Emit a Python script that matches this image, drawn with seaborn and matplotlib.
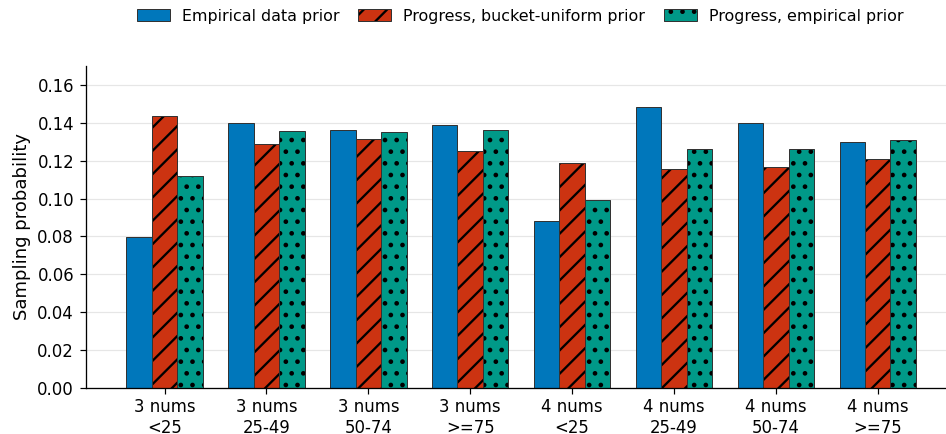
import matplotlib
matplotlib.use('Agg')
import matplotlib.pyplot as plt
import pandas as pd
import seaborn as sns

categories = ['3 nums\n<25', '3 nums\n25-49', '3 nums\n50-74', '3 nums\n>=75',
              '4 nums\n<25', '4 nums\n25-49', '4 nums\n50-74', '4 nums\n>=75']
series = ['Empirical data prior', 'Progress, bucket-uniform prior',
          'Progress, empirical prior']
empirical = [0.0797, 0.1400, 0.1362, 0.1389, 0.0882, 0.1484, 0.1400, 0.1299]
bucket_uniform = [0.1436, 0.1288, 0.1315, 0.1251, 0.1188, 0.1156, 0.1167, 0.1209]
progress_empirical = [0.1120, 0.1357, 0.1352, 0.1362, 0.0993, 0.1262, 0.1262, 0.1310]
colors = ['#0077BB', '#CC3311', '#009988']
hatches = ['', '/', '.']

df = pd.DataFrame({
    'bucket': categories * 3,
    'prob': empirical + bucket_uniform + progress_empirical,
    'prior': [s for s in series for _ in categories],
})

# hatch cells are one inch = DPI pixels, so a low dpi gives the dense pattern
DPI = 70


def px(n):
    """pixels -> points at the figure dpi"""
    return n * 72 / DPI


sns.set_style('ticks')
plt.rcParams['font.family'] = ['DejaVu Sans']
plt.rcParams['hatch.linewidth'] = px(2.3)
plt.rcParams['hatch.color'] = 'black'
plt.rcParams['text.color'] = 'black'
plt.rcParams['axes.labelcolor'] = 'black'
plt.rcParams['xtick.color'] = 'black'
plt.rcParams['ytick.color'] = 'black'
plt.rcParams['axes.edgecolor'] = 'black'

fig, ax = plt.subplots(figsize=(946 / DPI, 434 / DPI), dpi=DPI)
sns.barplot(data=df, x='bucket', y='prob', hue='prior', palette=colors,
            width=0.75, edgecolor='#333333', linewidth=px(1), saturation=1,
            ax=ax, legend=False)

# hatch each series, hatch lines in black while the outline stays grey
for cont, h in zip(ax.containers, hatches):
    for bar in cont.patches:
        bar.set_hatch(h)
        if hasattr(bar, 'set_hatchcolor'):
            bar.set_hatchcolor('black')
        else:
            bar._hatch_color = (0, 0, 0, 1)

handles = [cont.patches[0] for cont in ax.containers]
ax.legend(handles, series, loc='center', bbox_to_anchor=(0.505, 1.155),
          ncol=3, frameon=False, fontsize=px(15.9), handlelength=33 / 15.9,
          handleheight=12 / 15.9, handletextpad=12 / 15.9,
          columnspacing=19 / 15.9)
for h in ax.get_legend().legend_handles:
    h._hatch_color = (0, 0, 0, 1)

ax.set_ylim(0, 0.17)
ax.set_yticks([i * 0.02 for i in range(9)])
ax.set_xlim(-0.77, 7.67)
ax.set_xlabel('')
ax.set_ylabel('Sampling probability', fontsize=px(18), labelpad=px(6))
ax.tick_params(labelsize=px(16.5), length=px(6), width=px(1.2))
ax.tick_params(axis='y', pad=px(6))
ax.tick_params(axis='x', pad=px(4.5))
ax.yaxis.grid(True, color='#e6e6e6', linewidth=px(1.2))
ax.set_axisbelow(True)
for s in ['left', 'bottom']:
    ax.spines[s].set_linewidth(px(1.3))
sns.despine(ax=ax)

fig.subplots_adjust(left=0.091, right=1.0, top=0.848, bottom=0.106)
fig.savefig('out.png', dpi=DPI)
plt.close(fig)
